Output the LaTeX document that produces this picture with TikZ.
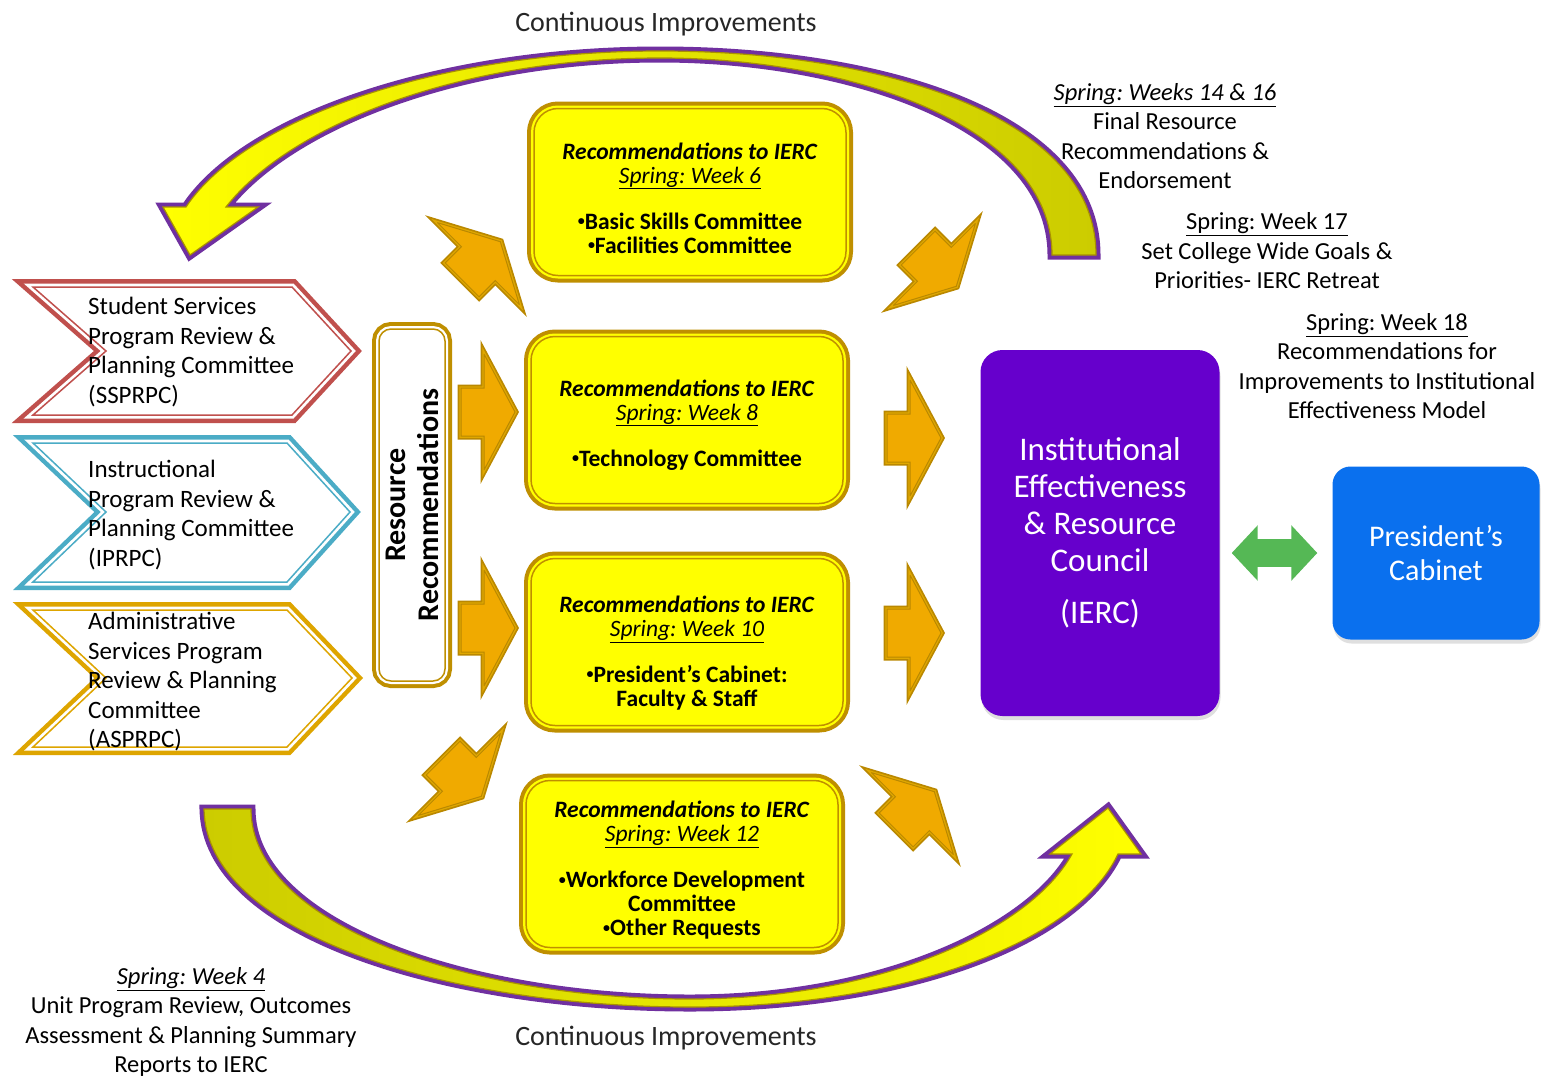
\documentclass[tikz,border=0pt]{standalone}
\usepackage{fontspec}
\setmainfont{Carlito}
\usepackage{xcolor}
\usepackage{tikz}
\usetikzlibrary{arrows.meta, shadows}
\frenchspacing

\definecolor{iercpurple}{HTML}{6600CC}
\definecolor{cabblue}{HTML}{0A70EE}
\definecolor{loopline}{HTML}{7030A0}
\definecolor{loopedge}{HTML}{A89000}
\definecolor{loopyellow}{HTML}{FFFF00}
\definecolor{loopolive}{HTML}{CCCC00}
\definecolor{recfill}{HTML}{FFFF00}
\definecolor{recline}{HTML}{BF8F00}
\definecolor{arrfill}{HTML}{F0AA00}
\definecolor{arrmid}{HTML}{E0A800}
\definecolor{arrline}{HTML}{BA8800}
\definecolor{ssred}{HTML}{C0504D}
\definecolor{inblue}{HTML}{4BACC6}
\definecolor{adgold}{HTML}{DEA500}
\definecolor{dblarrow}{HTML}{55B855}

\newcommand{\fsz}[2]{\fontsize{#1}{#2}\selectfont}
\newcommand{\bul}{\raisebox{0.3ex}{\fsz{14}{14}•}}

\begin{document}
\begin{tikzpicture}[x=1pt, y=-1pt,
  chev/.style={preaction={draw=#1, line width=16pt},
               preaction={draw=white, line width=7pt},
               fill=white, draw=#1, line width=1.5pt},
  chevtext/.style={anchor=west, align=left, inner sep=0pt, font=\fsz{25}{29.5}},
  recbox/.style={preaction={draw=recline, line width=14pt},
                 preaction={draw=recfill, line width=6pt},
                 fill=recfill, draw=recline, line width=1.5pt, rounded corners=24pt,
                 minimum width=312pt, minimum height=167pt, inner sep=0pt},
  rectext/.style={align=center, inner sep=0pt, font=\fsz{23.5}{24}},
  resbox/.style={preaction={draw=recline, line width=14pt},
                 preaction={draw=white, line width=6pt},
                 fill=white, draw=recline, line width=1.5pt, rounded corners=12pt,
                 minimum width=352pt, minimum height=66pt, inner sep=0pt,
                 align=center, font=\bfseries\fsz{30}{33}},
  fatarr/.style={preaction={draw=arrline, line width=7pt},
                 preaction={draw=arrmid, line width=3.5pt},
                 fill=arrfill, draw=arrline, line width=1pt, miter limit=4},
  looparr/.style={preaction={draw=loopline, line width=9pt},
                  draw=loopedge, line width=1.2pt},
  note/.style={align=center, inner sep=0pt, font=\fsz{24.5}{29.5}},
  cinote/.style={inner sep=0pt, text=black!85, font=\fsz{28}{30}},
  dblarr/.style={draw=dblarrow, line width=28pt,
                 {Triangle[length=26pt, width=54pt]}-{Triangle[length=26pt, width=54pt]},
                 shorten <=12pt, shorten >=15pt}]

\useasboundingbox (0,0) rectangle (1544,1080);
\fill[white] (0,0) rectangle (1544,1080);

% ── Continuous improvement loops ───────────────────────────────
\draw[looparr, left color=loopyellow, right color=loopolive]
  (1096,255) .. controls (1096,115) and (880,51) .. (660,51)
  .. controls (440,51) and (245,118) .. (186,207)
  -- (163,207) -- (190,255) -- (258,207) -- (226,207)
  .. controls (290,125) and (460,58) .. (660,58)
  .. controls (850,58) and (1052,125) .. (1052,255) -- cycle;

\draw[looparr, left color=loopolive, right color=loopyellow]
  (204,809) .. controls (206,935) and (450,1007) .. (690,1007)
  .. controls (900,1007) and (1075,945) .. (1118,854)
  -- (1141,854) -- (1108,808) -- (1050,854) -- (1072,854)
  .. controls (1030,930) and (880,999) .. (690,999)
  .. controls (470,999) and (251,925) .. (251,809) -- cycle;

\node[cinote] (citop) at (666,24) {Continuous Improvements};
\node[cinote] (cibot) at (666,1038) {Continuous Improvements};

% ── Program review committees ──────────────────────────────────
\draw[chev=ssred]  (33,287) -- (292,287) -- (351,351) -- (292,415) -- (33,415) -- (106,351) -- cycle;
\draw[chev=inblue] (33,443) -- (287,443) -- (350,512) -- (287,582) -- (33,582) -- (106,512) -- cycle;
\draw[chev=adgold] (33,610) -- (287,610) -- (352,678) -- (287,747) -- (33,747) -- (106,678) -- cycle;

\node[chevtext] (ssprpc) at (88,352) {Student Services\\Program Review \&\\Planning Committee\\(SSPRPC)};
\node[chevtext] (iprpc) at (88,515) {Instructional\\Program Review \&\\Planning Committee\\(IPRPC)};
\node[chevtext] (asprpc) at (88,682) {Administrative\\Services Program\\Review \& Planning\\Committee\\(ASPRPC)};

\node[resbox, rotate=90] (resrec) at (412,505) {Resource\\Recommendations};

% ── Recommendations to IERC ────────────────────────────────────
\node[recbox] (rec6) at (690,192) {};
\node[recbox] (rec8) at (687,420) {};
\node[recbox] (rec10) at (687,642) {};
\node[recbox] (rec12) at (682,864) {};

\node[rectext] (rec6txt) at (690,198)
  {\textbf{\textit{Recommendations to IERC}}\\ \textit{\underline{Spring: Week 6}}\\[22pt]
   \textbf{\bul Basic Skills Committee}\\ \textbf{\bul Facilities Committee}};
\node[rectext] (rec8txt) at (687,425)
  {\textbf{\textit{Recommendations to IERC}}\\ \textit{\underline{Spring: Week 8}}\\[22pt]
   \textbf{\bul Technology Committee}};
\node[rectext] (rec10txt) at (687,653)
  {\textbf{\textit{Recommendations to IERC}}\\ \textit{\underline{Spring: Week 10}}\\[22pt]
   \textbf{\bul President’s Cabinet:}\\ \textbf{Faculty \& Staff}};
\node[rectext] (rec12txt) at (682,870)
  {\textbf{\textit{Recommendations to IERC}}\\ \textit{\underline{Spring: Week 12}}\\[22pt]
   \textbf{\bul Workforce Development}\\ \textbf{Committee}\\ \textbf{\bul Other Requests}};

% block arrows: tail x / tail y / direction
\foreach \ax/\ay/\ang in {460/282/45, 458/412/0, 458/628/0, 441/756/-45,
                          916/246/-45, 884/438/0, 884/633/0, 894/832/45}
  \draw[fatarr, shift={(\ax,\ay)}, rotate=\ang]
    (3,-24) -- (26,-24) -- (26,-58) -- (57,0) -- (26,58) -- (26,24) -- (3,24) -- cycle;

% ── IERC and cabinet ───────────────────────────────────────────
\node[fill=iercpurple, rounded corners=22pt, minimum width=239pt, minimum height=366pt,
      text=white, align=center, font=\fsz{33}{37},
      drop shadow={opacity=0.25, shadow xshift=1pt, shadow yshift=-4pt}] (ierc) at (1100,533)
  {Institutional\\Effectiveness\\\& Resource\\Council\\[15pt](IERC)};

\node[fill=cabblue, rounded corners=18pt, minimum width=207pt, minimum height=173pt,
      text=white, align=center, font=\fsz{30}{34},
      drop shadow={opacity=0.25, shadow xshift=1pt, shadow yshift=-4pt}] (cabinet) at (1436,553)
  {President’s\\Cabinet};

\draw[dblarr] (ierc.east |- cabinet.west) -- (cabinet.west);

% ── Timeline notes ─────────────────────────────────────────────
\node[note] (wk16) at (1165,136)
  {\textit{\underline{Spring: Weeks 14 \& 16}}\\Final Resource\\Recommendations \&\\Endorsement};
\node[note] (wk17) at (1267,251)
  {\underline{Spring: Week 17}\\Set College Wide Goals \&\\Priorities- IERC Retreat};
\node[note] (wk18) at (1387,366)
  {\underline{Spring: Week 18}\\Recommendations for\\Improvements to Institutional\\Effectiveness Model};
\node[note] (wk4) at (191,1022)
  {\textit{\underline{Spring: Week 4}}\\Unit Program Review, Outcomes\\Assessment \& Planning Summary\\Reports to IERC};

\end{tikzpicture}
\end{document}
